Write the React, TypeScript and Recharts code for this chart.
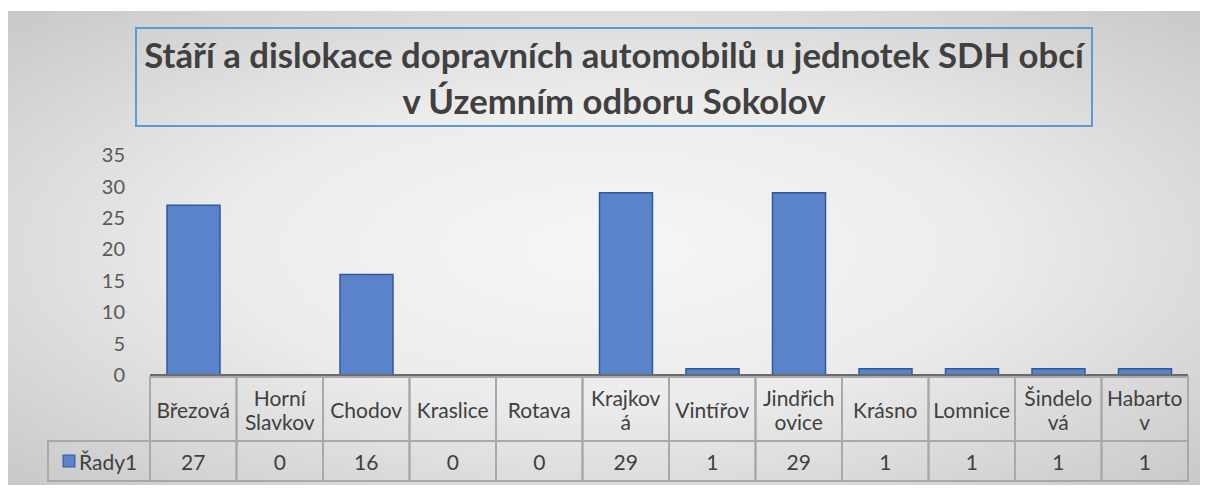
import React from 'react'
import { BarChart, Bar, XAxis, YAxis } from 'recharts'

const categories = ['Březová', 'Horní Slavkov', 'Chodov', 'Kraslice', 'Rotava', 'Krajková', 'Vintířov', 'Jindřichovice', 'Krásno', 'Lomnice', 'Šindelová', 'Habartov']
// how the category names wrap inside the table cells
const tickLines = [['Březová'], ['Horní', 'Slavkov'], ['Chodov'], ['Kraslice'], ['Rotava'], ['Krajkov', 'á'], ['Vintířov'], ['Jindřich', 'ovice'], ['Krásno'], ['Lomnice'], ['Šindelo', 'vá'], ['Habarto', 'v']]
const rady1 = [27, 0, 16, 0, 0, 29, 1, 29, 1, 1, 1, 1]
const seriesName = 'Řady1'
const yTicks = [0, 5, 10, 15, 20, 25, 30, 35]
const titleLines = ['Stáří a dislokace dopravních automobilů u jednotek SDH obcí', 'v Územním odboru Sokolov']

const data = categories.map((name, i) => ({ name, value: rady1[i], lines: tickLines[i] }))

const FONT = 'Lato, "Open Sans", sans-serif'
const TEXT = '#404040'
const GRID = '#a9a9a9'
const BAR_FILL = '#5b83c9'
const BAR_STROKE = '#2f599f'

const COL_W = 1038 / 12
const HEAD_H = 64
const ROW_H = 40
const LEGEND_W = 102

const TableTick = (props: any) => {
  const { x, y, payload, index } = props
  const lines: string[] = tickLines[index] || [payload.value]
  const left = x - COL_W / 2
  const headTop = y + 2
  const rowTop = y + 2 + HEAD_H
  const lineH = 24
  const startY = headTop + HEAD_H / 2 - ((lines.length - 1) * lineH) / 2
  return (
    <g>
      <rect x={left} y={headTop} width={COL_W} height={HEAD_H} fill="none" stroke={GRID} strokeWidth={2} />
      <rect x={left} y={rowTop} width={COL_W} height={ROW_H} fill="none" stroke={GRID} strokeWidth={2} />
      {lines.map((l, k) => (
        <text key={k} x={x} y={startY + k * lineH} textAnchor="middle" dominantBaseline="central" fontSize={21} fill={TEXT} fontFamily={FONT}>{l}</text>
      ))}
      <text x={x} y={rowTop + ROW_H / 2} textAnchor="middle" dominantBaseline="central" fontSize={21} fill={TEXT} fontFamily={FONT}>{rady1[index]}</text>
      {index === 0 && (
        <g>
          <rect x={left - LEGEND_W} y={rowTop} width={LEGEND_W} height={ROW_H} fill="none" stroke={GRID} strokeWidth={2} />
          <rect x={left - LEGEND_W + 15} y={rowTop + 14} width={12} height={12} fill={BAR_FILL} stroke={BAR_STROKE} strokeWidth={1} />
          <text x={left - LEGEND_W + 31} y={rowTop + ROW_H / 2} dominantBaseline="central" fontSize={21} fill={TEXT} fontFamily={FONT}>{seriesName}</text>
        </g>
      )}
    </g>
  )
}

const App = () => {
  return (
    <div style={{
      position: 'relative', top: 3, width: 1200, height: 477, overflow: 'hidden',
      background: 'radial-gradient(ellipse at center, #f6f6f6 0%, #ececec 45%, #c8c8c8 100%)',
    }}>
      <div style={{
        position: 'absolute', left: 127, top: 16, width: 958, height: 100, boxSizing: 'border-box',
        border: '2px solid #5b9bd5', paddingTop: 3, textAlign: 'center', fontFamily: FONT,
        fontWeight: 700, fontSize: 34.7, lineHeight: '46px', color: TEXT, whiteSpace: 'nowrap',
      }}>
        {titleLines.map((t) => <div key={t}>{t}</div>)}
      </div>
      <BarChart width={1200} height={477} data={data} margin={{ top: 144, right: 20, bottom: 7, left: 82 }} barSize={53}>
        <XAxis dataKey="name" height={106} interval={0} tickLine={false} tickSize={0} tickMargin={0}
          axisLine={{ stroke: '#6b6b6b', strokeWidth: 2 }} tick={<TableTick />} />
        <YAxis width={60} domain={[0, 35]} ticks={yTicks} axisLine={false} tickLine={false} tickSize={0} tickMargin={25}
          tick={{ fontSize: 20, fill: '#595959', fontFamily: FONT }} />
        <Bar dataKey="value" name={seriesName} fill={BAR_FILL} stroke={BAR_STROKE} strokeWidth={1.5} isAnimationActive={false} />
      </BarChart>
    </div>
  )
}

export default App
